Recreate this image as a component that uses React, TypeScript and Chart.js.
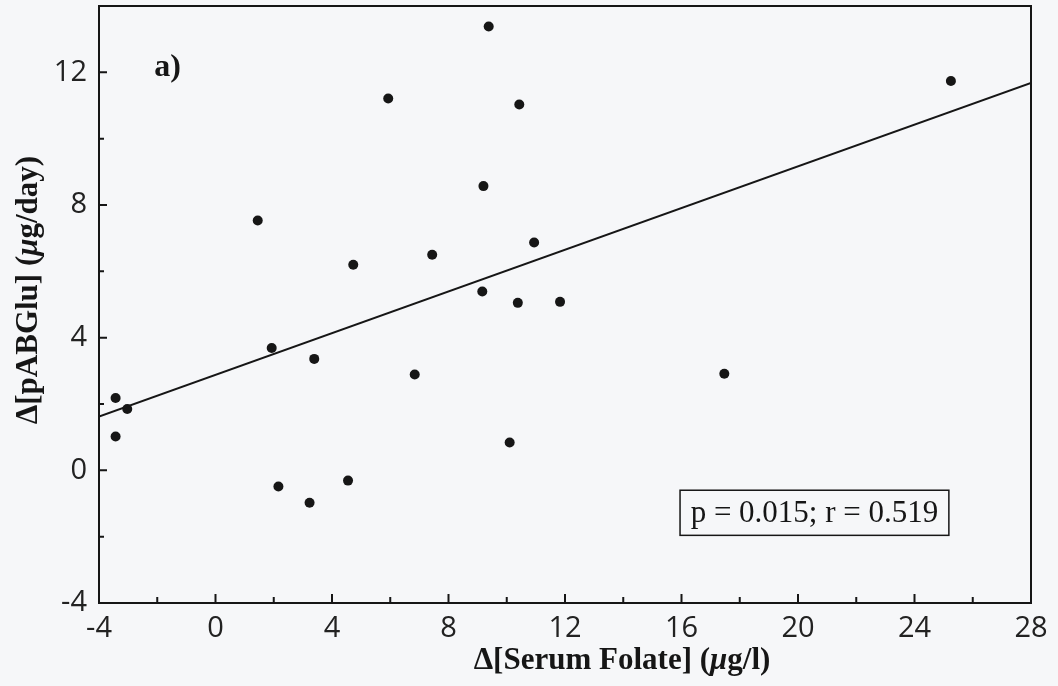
import React, { useEffect, useRef } from 'react';
import { Chart, registerables } from 'chart.js';

Chart.register(...registerables);

// Δ[Serum Folate] (µg/l)
const folateX = [9.38, 5.93, 10.43, 1.45, 9.2, 4.73, 7.44, 9.16, 25.25, 10.94, 1.93, 3.39, 6.84, -3.43, -3.03, -3.43, 10.1, 2.16, 4.55, 3.23, 10.38, 11.83, 17.47];
// Δ[pABGlu] (µg/day)
const pabgluY = [13.38, 11.21, 11.03, 7.53, 8.57, 6.2, 6.5, 5.39, 11.74, 6.87, 3.69, 3.36, 2.89, 2.18, 1.85, 1.02, 0.84, -0.49, -0.31, -0.98, 5.05, 5.08, 2.91];
// regression line end points
const fitX = [-4, 28];
const fitY = [1.62, 11.68];

const xTickLabels = [-4, 0, 4, 8, 12, 16, 20, 24, 28];
const xTickMarks = [-4, -2, 0, 2, 4, 6, 8, 10, 12, 14, 16, 18, 20, 22, 24, 26, 28];
const yTickLabels = [-4, 0, 4, 8, 12];
const yTickMarks = [-4, -2, 0, 2, 4, 6, 8, 10, 12];

const statsText = 'p = 0.015; r = 0.519';
const panelLabel = 'a)';
const xTitleParts = [
  { t: 'Δ[Serum Folate] (', it: false },
  { t: 'μ', it: true },
  { t: 'g/l)', it: false },
];
const yTitleParts = [
  { t: 'Δ[pABGlu] (', it: false },
  { t: 'μ', it: true },
  { t: 'g/day)', it: false },
];

const INK = '#161616';
const BG = '#f6f7f9';
const SERIF = '"Liberation Serif", "Times New Roman", serif';

function drawMixed(ctx: CanvasRenderingContext2D, parts: { t: string; it: boolean }[], size: number, cx: number, baseY: number) {
  const fontOf = (it: boolean) => `${it ? 'italic ' : ''}bold ${size}px ${SERIF}`;
  let total = 0;
  const widths = parts.map((p) => {
    ctx.font = fontOf(p.it);
    const w = ctx.measureText(p.t).width;
    total += w;
    return w;
  });
  let x = cx - total / 2;
  ctx.textAlign = 'left';
  ctx.textBaseline = 'alphabetic';
  parts.forEach((p, i) => {
    ctx.font = fontOf(p.it);
    ctx.fillText(p.t, x, baseY);
    x += widths[i];
  });
}

const decorPlugin = {
  id: 'decor',
  beforeDraw(chart: any) {
    const { ctx, width, height } = chart;
    ctx.save();
    ctx.fillStyle = BG;
    ctx.fillRect(0, 0, width, height);
    ctx.restore();
  },
  afterDatasetsDraw(chart: any) {
    const { ctx, chartArea, scales } = chart;
    const { left, right, top, bottom } = chartArea;
    const xs = scales.x;
    const ys = scales.y;
    ctx.save();
    ctx.strokeStyle = INK;
    ctx.lineWidth = 2;
    ctx.strokeRect(left, top, right - left, bottom - top);
    ctx.beginPath();
    xs.ticks.forEach((t: any) => {
      const px = xs.getPixelForValue(t.value);
      const len = xTickLabels.includes(t.value) ? 9 : 6;
      ctx.moveTo(px, bottom);
      ctx.lineTo(px, bottom - len);
    });
    ys.ticks.forEach((t: any) => {
      const py = ys.getPixelForValue(t.value);
      const len = yTickLabels.includes(t.value) ? 8 : 5;
      ctx.moveTo(left, py);
      ctx.lineTo(left + len, py);
    });
    ctx.stroke();

    // stats box
    const bx0 = xs.getPixelForValue(15.95);
    const bx1 = xs.getPixelForValue(25.18);
    const by0 = ys.getPixelForValue(-0.6);
    const by1 = ys.getPixelForValue(-1.96);
    ctx.fillStyle = BG;
    ctx.fillRect(bx0, by0, bx1 - bx0, by1 - by0);
    ctx.lineWidth = 1.5;
    ctx.strokeRect(bx0, by0, bx1 - bx0, by1 - by0);
    ctx.fillStyle = INK;
    ctx.font = `31px ${SERIF}`;
    ctx.textAlign = 'center';
    ctx.textBaseline = 'alphabetic';
    ctx.fillText(statsText, (bx0 + bx1) / 2, by1 - 13);

    // panel label
    ctx.font = `bold 32px ${SERIF}`;
    ctx.textAlign = 'left';
    ctx.fillText(panelLabel, xs.getPixelForValue(-2.1), ys.getPixelForValue(11.9));

    // axis titles
    drawMixed(ctx, xTitleParts, 31, 622, 669);
    ctx.translate(37, 290);
    ctx.rotate(-Math.PI / 2);
    drawMixed(ctx, yTitleParts, 31, 0, 0);
    ctx.restore();
  },
};

export default function App() {
  const ref = useRef<HTMLCanvasElement | null>(null);

  useEffect(() => {
    if (!ref.current) return;
    const points = folateX.map((x, i) => ({ x, y: pabgluY[i] }));
    const fit = fitX.map((x, i) => ({ x, y: fitY[i] }));
    const tickFont = { family: '"Open Sans", sans-serif', size: 29 };
    const chart = new Chart(ref.current, {
      type: 'scatter',
      data: {
        datasets: [
          {
            label: 'fit',
            data: fit,
            showLine: true,
            borderColor: INK,
            borderWidth: 2,
            pointRadius: 0,
            fill: false,
          },
          {
            label: 'subjects',
            data: points,
            backgroundColor: INK,
            borderWidth: 0,
            pointRadius: 5,
          },
        ],
      },
      options: {
        animation: false,
        responsive: false,
        events: [],
        layout: { autoPadding: false, padding: { left: 0, top: 6, right: 27, bottom: 0 } },
        plugins: { legend: { display: false }, tooltip: { enabled: false } },
        scales: {
          x: {
            type: 'linear',
            min: -4,
            max: 28,
            grid: { display: false, drawTicks: false },
            border: { display: false },
            afterBuildTicks: (s: any) => {
              s.ticks = xTickMarks.map((v) => ({ value: v }));
            },
            ticks: {
              autoSkip: false,
              maxRotation: 0,
              padding: 8,
              color: '#222',
              font: tickFont,
              callback: (v: any) => (xTickLabels.includes(Number(v)) ? String(v) : ''),
            },
            afterFit: (s: any) => {
              s.height = 83;
              s.paddingLeft = 0;
              s.paddingRight = 0;
              s.paddingTop = 0;
              s.paddingBottom = 0;
            },
          },
          y: {
            type: 'linear',
            min: -4,
            max: 14,
            grid: { display: false, drawTicks: false },
            border: { display: false },
            afterBuildTicks: (s: any) => {
              s.ticks = yTickMarks.map((v) => ({ value: v }));
            },
            ticks: {
              autoSkip: false,
              padding: 12,
              color: '#222',
              font: tickFont,
              callback: (v: any) => (yTickLabels.includes(Number(v)) ? String(v) : ''),
            },
            afterFit: (s: any) => {
              s.width = 99;
              s.paddingLeft = 0;
              s.paddingRight = 0;
              s.paddingTop = 0;
              s.paddingBottom = 0;
            },
          },
        },
      },
      plugins: [decorPlugin],
    });
    return () => chart.destroy();
  }, []);

  return (
    <div style={{ position: 'fixed', left: 0, top: 0, width: 1058, height: 686, background: BG }}>
      <canvas ref={ref} width={1058} height={686} style={{ width: 1058, height: 686, display: 'block' }} />
    </div>
  );
}
